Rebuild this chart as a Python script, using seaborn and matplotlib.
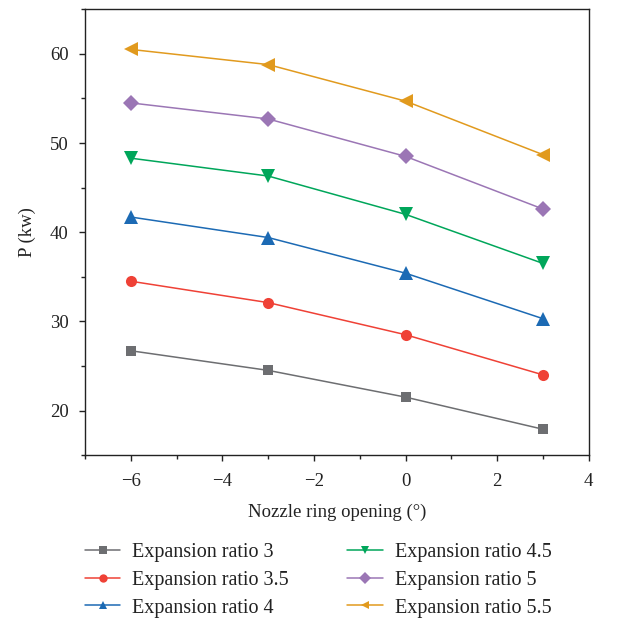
import pandas as pd
import matplotlib.pyplot as plt
import seaborn as sns
from matplotlib.ticker import MultipleLocator

# ── Data ─────────────────────────────────────────────────
opening = [-6, -3, 0, 3]
ratios = ['Expansion ratio 3', 'Expansion ratio 3.5', 'Expansion ratio 4',
          'Expansion ratio 4.5', 'Expansion ratio 5', 'Expansion ratio 5.5']
p_r3 = [26.7, 24.5, 21.5, 17.9]
p_r35 = [34.5, 32.1, 28.5, 24.0]
p_r4 = [41.7, 39.4, 35.4, 30.3]
p_r45 = [48.3, 46.3, 42.0, 36.5]
p_r5 = [54.5, 52.7, 48.5, 42.6]
p_r55 = [60.5, 58.8, 54.7, 48.7]

colors = ['#6d6e71', '#ef4136', '#1c6ab4', '#00a65a', '#9b76b5', '#e19a1e']
markers = ['s', 'o', '^', 'v', 'D', '<']
msizes = [7, 8, 9.5, 9.5, 8, 9.5]

rows = []
for name, vals in zip(ratios, [p_r3, p_r35, p_r4, p_r45, p_r5, p_r55]):
    for x, y in zip(opening, vals):
        rows.append({'opening': x, 'P': y, 'ratio': name})
df = pd.DataFrame(rows)

# ── Plot ─────────────────────────────────────────────────
sns.set_theme(style='ticks')
plt.rcParams['font.family'] = ['Liberation Serif', 'DejaVu Serif']
plt.rcParams['axes.unicode_minus'] = True

fig = plt.figure(figsize=(6.21, 6.20), dpi=100)
ax = fig.add_axes([0.137, 0.266, 0.811, 0.719])

sns.lineplot(data=df, x='opening', y='P', hue='ratio', style='ratio',
             hue_order=ratios, style_order=ratios,
             palette=dict(zip(ratios, colors)),
             markers=dict(zip(ratios, markers)), dashes=False,
             markersize=8, markeredgewidth=0, linewidth=1.1, ax=ax)

# per-series marker size (triangles look small at the same size)
for i, line in enumerate(ax.lines[:len(ratios)]):
    line.set_markersize(msizes[i])

ax.set_xlim(-7, 4)
ax.set_ylim(15, 65)
ax.xaxis.set_major_locator(MultipleLocator(2))
ax.xaxis.set_minor_locator(MultipleLocator(1))
ax.yaxis.set_major_locator(MultipleLocator(10))
ax.yaxis.set_minor_locator(MultipleLocator(5))
ax.tick_params(which='major', length=4, width=1, labelsize=13.5,
               color='#222222', labelcolor='#222222')
ax.tick_params(axis='x', which='major', pad=9)
ax.tick_params(axis='y', which='major', pad=8)
ax.tick_params(which='minor', length=3, width=1, color='#222222')
for s in ax.spines.values():
    s.set_visible(True)
    s.set_linewidth(1)
    s.set_color('#222222')

ax.set_xlabel('Nozzle ring opening (°)', fontsize=13.5, labelpad=10,
              color='#222222')
ax.set_ylabel('P (kw)', fontsize=13.5, labelpad=10, color='#222222')

handles, labels = ax.get_legend_handles_labels()
for h in handles:
    h.set_markersize(6)
ax.legend(handles, labels, ncol=2, loc='upper left',
          bbox_to_anchor=(0.0, -0.197), frameon=False, fontsize=14.5,
          borderpad=0, borderaxespad=0, handlelength=1.75,
          handletextpad=0.6, columnspacing=2.9, labelspacing=0.43,
          labelcolor='#222222')

plt.savefig('out.png', dpi=100)
plt.close()
